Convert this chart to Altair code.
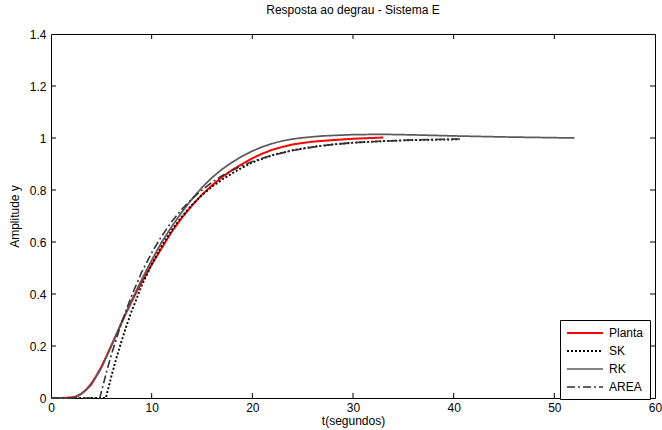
import altair as alt
import pandas as pd

# ---- data ----
t_planta = [0, 1, 2, 2.5, 3, 3.5, 4, 4.5, 5, 5.5, 6, 6.5, 7, 7.5, 8, 8.5, 9, 10, 11, 12,
            13, 14, 15, 16, 17, 18, 19, 20, 21, 22, 23, 24, 25, 26, 28, 30, 33]
y_planta = [0, 0, 0.002, 0.006, 0.016, 0.032, 0.055, 0.085, 0.12, 0.16, 0.203, 0.245, 0.288,
            0.33, 0.37, 0.408, 0.444, 0.513, 0.577, 0.64, 0.693, 0.74, 0.782, 0.818, 0.85,
            0.877, 0.9, 0.922, 0.94, 0.955, 0.966, 0.975, 0.981, 0.986, 0.992, 0.997, 1.002]

t_sk = [0, 5.45, 6, 6.5, 7, 7.5, 8, 9, 10, 11, 12, 13, 14, 15, 16, 17, 18, 19, 20, 22, 24,
        26, 28, 30, 33, 36, 40.6]
y_sk = [0, 0, 0.084, 0.154, 0.218, 0.278, 0.333, 0.431, 0.514, 0.586, 0.646, 0.698, 0.743,
        0.78, 0.813, 0.84, 0.864, 0.886, 0.906, 0.934, 0.953, 0.966, 0.975, 0.982, 0.988,
        0.992, 0.995]

t_rk = [0, 2, 2.5, 3, 4, 5, 6, 7, 8, 9, 10, 11, 12, 13, 14, 15, 16, 17, 18, 19, 20, 21,
        22, 23, 24, 25, 27, 30, 33, 36, 40, 45, 52]
y_rk = [0, 0, 0.005, 0.015, 0.05, 0.115, 0.2, 0.29, 0.375, 0.455, 0.53, 0.6, 0.66, 0.715,
        0.765, 0.81, 0.848, 0.88, 0.907, 0.93, 0.95, 0.966, 0.979, 0.989, 0.996, 1.001,
        1.008, 1.013, 1.014, 1.012, 1.008, 1.004, 1.0]

t_area = [0, 4.85, 5.5, 6, 7, 8, 9, 10, 11, 12, 13, 14, 15, 16, 17, 18, 20, 22, 24, 26, 28,
          30, 33, 36, 40.6]
y_area = [0, 0, 0.098, 0.167, 0.289, 0.393, 0.483, 0.558, 0.623, 0.679, 0.726, 0.766, 0.8,
          0.83, 0.855, 0.876, 0.91, 0.934, 0.952, 0.965, 0.975, 0.982, 0.988, 0.993, 0.996]

series_names = ["Planta", "SK", "RK", "AREA"]
series_colors = ["#ff0000", "#000000", "#5a5a5a", "#333333"]
series_dashes = [[1, 0], [2, 2], [1, 0], [8, 3, 2, 3]]
series_widths = [2, 1.6, 1, 1]

x_ticks = [0, 10, 20, 30, 40, 50, 60]
y_ticks = [0, 0.2, 0.4, 0.6, 0.8, 1, 1.2, 1.4]
x_inner_ticks = [10, 20, 30, 40, 50]
y_inner_ticks = [0.2, 0.4, 0.6, 0.8, 1.0, 1.2]

frames = []
for name, tt, yy in zip(series_names, [t_planta, t_sk, t_rk, t_area],
                        [y_planta, y_sk, y_rk, y_area]):
    frames.append(pd.DataFrame({"t": tt, "y": yy, "serie": name, "ordem": range(len(tt))}))
df = pd.concat(frames, ignore_index=True)

W, H = 604, 364
FONT = "Liberation Sans"

x_scale = alt.Scale(domain=[0, 60], nice=False, zero=False)
y_scale = alt.Scale(domain=[0, 1.4], nice=False)
x_axis = alt.Axis(values=x_ticks, title="t(segundos)", ticks=False, grid=False,
                  domain=False, labelPadding=4, titlePadding=2, format="d",
                  labelFlush=False)
y_axis = alt.Axis(values=y_ticks, title="Amplitude y", ticks=False, grid=False,
                  domain=False, labelPadding=5, titlePadding=8, format="~g",
                  labelFlush=False)

lines = alt.Chart(df).mark_line().encode(
    x=alt.X("t:Q", scale=x_scale, axis=x_axis),
    y=alt.Y("y:Q", scale=y_scale, axis=y_axis),
    color=alt.Color("serie:N", sort=series_names,
                    scale=alt.Scale(domain=series_names, range=series_colors)),
    strokeDash=alt.StrokeDash("serie:N", sort=series_names,
                              scale=alt.Scale(domain=series_names, range=series_dashes)),
    strokeWidth=alt.StrokeWidth("serie:N", sort=series_names,
                                scale=alt.Scale(domain=series_names, range=series_widths)),
    order="ordem:Q",
)

xt = pd.DataFrame({"t": x_inner_ticks})
yt = pd.DataFrame({"y": y_inner_ticks})

bottom_ticks = alt.Chart(xt).mark_rule(color="black", strokeWidth=1).encode(
    x=alt.X("t:Q", scale=x_scale, axis=x_axis), y=alt.value(H), y2=alt.value(H - 5))
top_ticks = alt.Chart(xt).mark_rule(color="black", strokeWidth=1).encode(
    x=alt.X("t:Q", scale=x_scale, axis=x_axis), y=alt.value(0), y2=alt.value(5))
left_ticks = alt.Chart(yt).mark_rule(color="black", strokeWidth=1).encode(
    y=alt.Y("y:Q", scale=y_scale, axis=y_axis), x=alt.value(0), x2=alt.value(5))
right_ticks = alt.Chart(yt).mark_rule(color="black", strokeWidth=1).encode(
    y=alt.Y("y:Q", scale=y_scale, axis=y_axis), x=alt.value(W), x2=alt.value(W - 5))

chart = alt.layer(lines, bottom_ticks, top_ticks, left_ticks, right_ticks).properties(
    width=W, height=H,
    title=alt.TitleParams("Resposta ao degrau - Sistema E", fontSize=12, font=FONT,
                          fontWeight="normal", color="black", offset=11, anchor="middle"),
    padding={"left": 51, "top": 34, "right": 7, "bottom": 32},
    autosize=alt.AutoSizeParams(type="none"),
).configure_view(
    stroke="black", strokeWidth=1
).configure_axis(
    labelFont=FONT, labelFontSize=12, labelColor="black",
    titleFont=FONT, titleFontSize=12, titleColor="black", titleFontWeight="normal",
).configure_legend(
    orient="none", legendX=509, legendY=286, title=None,
    strokeColor="black", fillColor="white", padding=6,
    labelFont=FONT, labelFontSize=12, labelColor="black",
    symbolType="M-1,0H5", symbolSize=144, symbolStrokeWidth=1.5,
    rowPadding=5, labelOffset=29,
)

chart.save("out.html", embed_options={"renderer": "svg", "actions": False})
